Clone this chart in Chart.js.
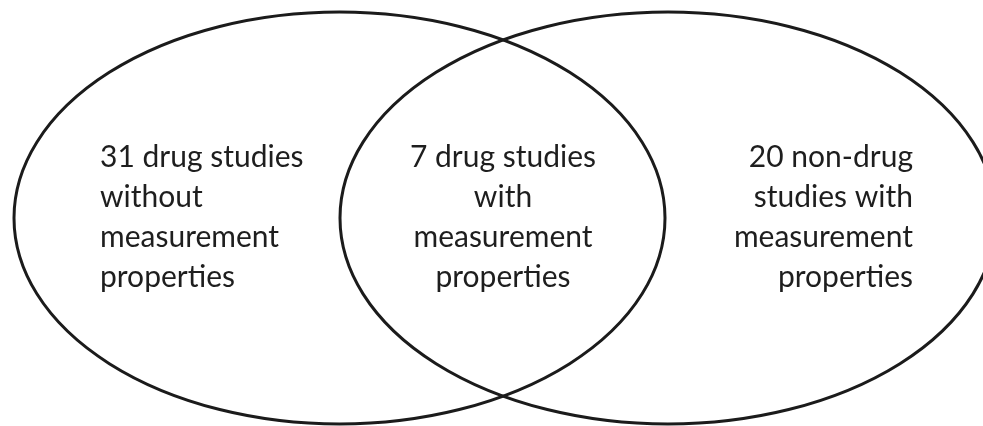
<!DOCTYPE html>
<html>
<head>
<meta charset="utf-8">
<script src="https://cdn.jsdelivr.net/npm/chart.js@4.4.1/dist/chart.umd.min.js"></script>
<style>
  html, body { margin: 0; padding: 0; background: #fff; }
  #wrap { width: 983px; height: 426px; position: relative; }
</style>
</head>
<body>
<div id="wrap"><canvas id="venn"></canvas></div>
<script>
// two sets of the venn diagram, in plot units (x 0..983, y 0..426)
const setNames = ['Drug studies', 'Studies with measurement properties'];
const setCenterX = [339.5, 668];
const setCenterY = [218, 218];
const setRadiusX = [325.5, 328];
const setRadiusY = [206, 206];

// region labels: left only, overlap, right only
const regionCounts = [31, 7, 20];
const regionLines = [
	[regionCounts[0] + ' drug studies', 'without', 'measurement', 'properties'],
	[regionCounts[1] + ' drug studies', 'with', 'measurement', 'properties'],
	[regionCounts[2] + ' non-drug', 'studies with', 'measurement', 'properties']
];

const labelX = [100, 503, 913];
const labelAlign = ['left', 'center', 'right'];
const firstBaseline = 167;
const lineGap = 40;

const vennPlugin = {
	id: 'venn',
	afterDatasetsDraw(chart) {
		const ctx = chart.ctx;
		const xs = chart.scales.x, ys = chart.scales.y;
		ctx.save();
		chart.data.datasets.forEach((ds) => {
			const p = ds.data[0];
			const cx = xs.getPixelForValue(p.x);
			const cy = ys.getPixelForValue(p.y);
			const rx = Math.abs(xs.getPixelForValue(p.x + p.rx) - cx);
			const ry = Math.abs(ys.getPixelForValue(p.y + p.ry) - cy);
			ctx.beginPath();
			ctx.ellipse(cx, cy, rx, ry, 0, 0, Math.PI * 2);
			ctx.lineWidth = 3;
			ctx.strokeStyle = '#1b1b1b';
			ctx.stroke();
		});

		ctx.fillStyle = '#1e1e1e';
		ctx.font = '30px Lato';
		ctx.textBaseline = 'alphabetic';
		regionLines.forEach((lines, r) => {
			ctx.textAlign = labelAlign[r];
			lines.forEach((t, k) => {
				ctx.fillText(t, xs.getPixelForValue(labelX[r]), ys.getPixelForValue(firstBaseline + k * lineGap));
			});
		});
		ctx.restore();
	}
};

new Chart(document.getElementById('venn'), {
	type: 'scatter',
	data: {
		datasets: setNames.map((name, i) => ({
			label: name,
			data: [{x: setCenterX[i], y: setCenterY[i], rx: setRadiusX[i], ry: setRadiusY[i]}],
			pointRadius: 0,
			pointHoverRadius: 0
		}))
	},
	options: {
		responsive: true,
		maintainAspectRatio: false,
		animation: false,
		events: [],
		layout: { padding: 0 },
		plugins: { legend: { display: false }, tooltip: { enabled: false } },
		scales: {
			x: { type: 'linear', min: 0, max: 983, display: false },
			y: { type: 'linear', min: 0, max: 426, reverse: true, display: false }
		}
	},
	plugins: [vennPlugin]
});
</script>
</body>
</html>
